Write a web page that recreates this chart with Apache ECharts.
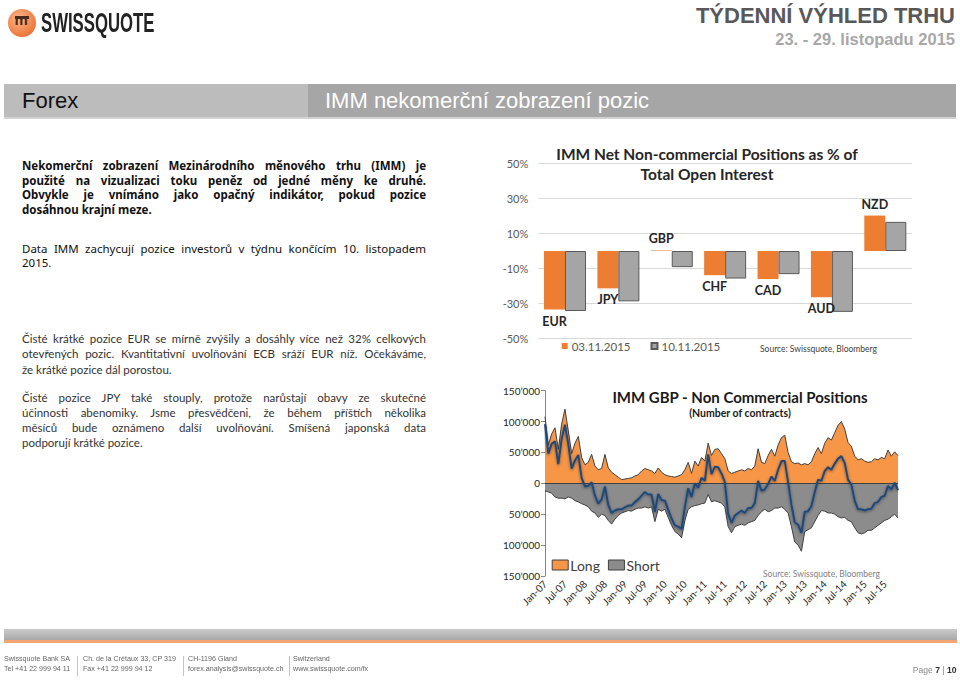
<!DOCTYPE html>
<html>
<head>
<meta charset="utf-8">
<script src="https://cdn.jsdelivr.net/npm/echarts@6/dist/echarts.min.js"></script>
<style>
  html,body{margin:0;padding:0;background:#fff;}
  body{width:960px;height:681px;position:relative;overflow:hidden;font-family:'Liberation Sans',Arial,sans-serif;}
  .abs{position:absolute;white-space:nowrap;}
  .p1{position:absolute;left:22px;width:404px;font-family:'Noto Sans',sans-serif;font-size:11.5px;line-height:14.4px;color:#111;white-space:nowrap;}
  .p3{position:absolute;left:22px;width:404px;font-family:'Lato',sans-serif;font-size:11.5px;color:#333;white-space:nowrap;}
  .foot{position:absolute;font-size:8px;color:#666;white-space:nowrap;transform:scaleX(0.89);transform-origin:left center;line-height:10px;}
  .sep{position:absolute;top:656px;width:1px;height:20px;background:#c4c4c4;}
</style>
</head>
<body>
<!-- header -->
<div class="abs" style="left:8px;top:9px;width:28px;height:28px;border-radius:50%;background:radial-gradient(circle at 40% 35%,#fbb58a,#ef7d42 65%,#d8622b);"></div>
<div class="abs" style="left:15px;top:16px;width:14px;height:2.5px;background:#4a2a1a;"></div>
<div class="abs" style="left:14.5px;top:12px;font:bold 15px 'Liberation Sans',Arial;color:#4a2a1a;line-height:15px;">m</div>
<div class="abs" style="left:41px;top:9.5px;font:bold 27px/27px 'Liberation Sans',Arial;color:#222;transform:scaleX(0.62);transform-origin:left top;">SWISSQUOTE</div>
<div class="abs" style="right:5px;top:5px;font:bold 22px/22px 'Liberation Sans',Arial;color:#58585a;">TÝDENNÍ VÝHLED TRHU</div>
<div class="abs" style="right:5px;top:31px;font:bold 16.5px/17px 'Liberation Sans',Arial;color:#a8a8a8;">23. - 29. listopadu 2015</div>

<!-- section bar -->
<div class="abs" style="left:4px;top:84px;width:304px;height:35px;background:#bcbcbc;"></div>
<div class="abs" style="left:308px;top:84px;width:648px;height:35px;background:#a6a6a6;"></div>
<div class="abs" style="left:4px;top:117px;width:952px;height:2px;background:#d2d2d2;"></div>
<div class="abs" style="left:22px;top:90.4px;font:22px/22px 'Liberation Sans',Arial;color:#111;">Forex</div>
<div class="abs" style="left:325px;top:90.4px;font:22px/22px 'Liberation Sans',Arial;color:#fff;">IMM nekomerční zobrazení pozic</div>

<!-- text paragraph 1 -->
<div class="p1 j" style="top:159.3px;font-weight:bold;">Nekomerční zobrazení Mezinárodního měnového trhu (IMM) je</div>
<div class="p1 j" style="top:173.7px;font-weight:bold;">použité na vizualizaci toku peněz od jedné měny ke druhé.</div>
<div class="p1 j" style="top:188.1px;font-weight:bold;">Obvykle je vnímáno jako opačný indikátor, pokud pozice</div>
<div class="p1" style="top:202.5px;font-weight:bold;">dosáhnou krajní meze.</div>

<div class="p1 j" style="top:241.8px;">Data IMM zachycují pozice investorů v týdnu končícím 10. listopadem</div>
<div class="p1" style="top:256.2px;">2015.</div>

<div class="p3 j" style="top:330.5px;line-height:15.5px;">Čisté krátké pozice EUR se mírně zvýšily a dosáhly více než 32% celkových</div>
<div class="p3 j" style="top:346px;line-height:15.5px;">otevřených pozic. Kvantitativní uvolňování ECB sráží EUR níž. Očekáváme,</div>
<div class="p3" style="top:361.5px;line-height:15.5px;">že krátké pozice dál porostou.</div>

<div class="p3 j" style="top:389.6px;line-height:15.1px;">Čisté pozice JPY také stouply, protože narůstají obavy ze skutečné</div>
<div class="p3 j" style="top:404.7px;line-height:15.1px;">účinnosti abenomiky. Jsme přesvědčeni, že během příštích několika</div>
<div class="p3 j" style="top:419.8px;line-height:15.1px;">měsíců bude oznámeno další uvolňování. Smíšená japonská data</div>
<div class="p3" style="top:434.9px;line-height:15.1px;">podporují krátké pozice.</div>

<!-- charts -->
<div id="chart" style="position:absolute;left:490px;top:140px;width:470px;height:490px;"></div>

<!-- footer -->
<div class="abs" style="left:4px;top:629px;width:953px;height:11px;background:linear-gradient(#cbcbcb,#a8a8a8);"></div>
<div class="abs" style="left:4px;top:640px;width:953px;height:2.5px;background:#f3a575;"></div>
<div class="foot" style="left:4px;top:654.3px;">Swissquote Bank SA</div>
<div class="foot" style="left:4px;top:664px;">Tel +41 22 999 94 11</div>
<div class="sep" style="left:77px;"></div>
<div class="foot" style="left:83px;top:654.3px;">Ch. de la Crétaux 33, CP 319</div>
<div class="foot" style="left:83px;top:664px;">Fax +41 22 999 94 12</div>
<div class="sep" style="left:183px;"></div>
<div class="foot" style="left:188px;top:654.3px;">CH-1196 Gland</div>
<div class="foot" style="left:188px;top:664px;">forex.analysis@swissquote.ch</div>
<div class="sep" style="left:289px;"></div>
<div class="foot" style="left:293px;top:654.3px;">Switzerland</div>
<div class="foot" style="left:293px;top:664px;">www.swissquote.com/fx</div>
<div class="abs" style="right:4px;top:664px;font-size:9.5px;line-height:11px;color:#888;transform:scaleX(0.9);transform-origin:right center;">Page <b style="color:#333">7</b> | <b style="color:#333">10</b></div>

<script>
// ---------- data: IMM net non-commercial positions (% of open interest) ----------
const fxCurrencies = ['EUR', 'JPY', 'GBP', 'CHF', 'CAD', 'AUD', 'NZD'];
const pos_03_11_2015 = [-33.4, -21.3, 0.3, -13.8, -16.0, -26.4, 20.2];
const pos_10_11_2015 = [-34.2, -28.7, -9.2, -15.7, -13.2, -34.7, 16.6];
const pctTickMin = -50, pctTickMax = 50, pctTickStep = 20;

// ---------- data: IMM GBP non-commercial positions, monthly, thousands of contracts ----------
const gbpStartYear = 2007;
const gbpLongK = [
  108, 62, 80, 90, 55, 96, 120, 85, 48, 65, 76, 42,
  30, 34, 47, 28, 22, 24, 47, 25, 18, 14, 10, 6,
  7, 8, 9, 12, 14, 20, 24, 22, 20, 16, 25, 18,
  14, 12, 11, 10, 12, 14, 22, 34, 16, 36, 28, 42,
  36, 65, 45, 55, 56, 48, 40, 20, 16, 18, 20, 22,
  20, 24, 22, 28, 56, 34, 32, 45, 55, 44, 62, 74,
  78, 50, 35, 32, 33, 30, 32, 30, 35, 48, 58, 48,
  65, 74, 70, 82, 94, 100, 88, 66, 60, 44, 38, 40,
  36, 34, 35, 40, 38, 42, 40, 54, 44, 51, 45
];
const gbpShortK = [
  -12, -14, -16, -22, -24, -24, -25, -22, -24, -28, -30, -33,
  -35, -38, -45, -48, -55, -50, -52, -60, -66, -58, -52, -48,
  -46, -44, -45, -42, -40, -40, -38, -40, -38, -62, -42, -45,
  -42, -55, -68, -78, -82, -88, -60, -42, -38, -36, -35, -33,
  -32, -18, -30, -28, -30, -32, -38, -70, -80, -70, -68, -66,
  -68, -64, -62, -60, -52, -46, -42, -46, -44, -40, -40, -38,
  -42, -48, -70, -95, -100, -110, -78, -75, -72, -62, -52, -44,
  -45, -48, -48, -50, -54, -56, -55, -60, -62, -72, -80, -82,
  -80, -76, -76, -72, -68, -64, -60, -58, -54, -50, -56
];
const gbpNetK = [
  96, 48, 64, 68, 31, 72, 95, 63, 24, 37, 46, 9,
  -5, -4, 2, -20, -33, -26, -5, -35, -48, -44, -42, -42,
  -39, -36, -36, -30, -26, -20, -14, -18, -18, -46, -17, -27,
  -28, -43, -57, -68, -70, -74, -38, -8, -22, 0, -7, 9,
  4, 47, 15, 27, 26, 16, 2, -50, -64, -52, -48, -44,
  -48, -40, -40, -32, 4, -12, -10, -1, 11, 4, 22, 36,
  36, 2, -35, -63, -67, -80, -46, -45, -37, -14, 6, 4,
  20, 26, 22, 32, 40, 44, 33, 6, -2, -28, -42, -42,
  -44, -42, -41, -32, -30, -22, -20, -4, -10, 1, -11
];
const monthNames = ['Jan','Feb','Mar','Apr','May','Jun','Jul','Aug','Sep','Oct','Nov','Dec'];
const contractsTickMin = -150000, contractsTickMax = 150000, contractsTickStep = 50000;

// ---------- justify text lines to the column width ----------
function justifyLines() {
  document.querySelectorAll('.j').forEach(el => {
    el.style.wordSpacing = '0px';
    const target = 404;
    const range = document.createRange();
    range.selectNodeContents(el);
    const w = range.getBoundingClientRect().width;
    const n = (el.textContent.match(/ /g) || []).length;
    if (n > 0) el.style.wordSpacing = ((target - w) / n) + 'px';
  });
}
justifyLines();
if (document.fonts && document.fonts.ready) document.fonts.ready.then(justifyLines);

// ---------- build ----------
const UNIT = 1000;
const gbpMonths = gbpLongK.map((_, i) =>
  monthNames[i % 12] + '-' + String(gbpStartYear + Math.floor(i / 12)).slice(2));
const fmtContracts = v => {
  const a = Math.abs(v);
  if (a === 0) return '0';
  const s = String(a);
  return s.slice(0, s.length - 3) + '\u2019' + s.slice(-3);
};

const chart = echarts.init(document.getElementById('chart'), null, {renderer: 'svg'});
const FONT = 'Lato';

const option = {
  animation: false,
  textStyle: {fontFamily: FONT},
  grid: [
    {left: 48.3, top: 23.3, width: 373.7, height: 175.4},
    {left: 55, top: 250.7, width: 353, height: 185.3}
  ],
  xAxis: [
    {gridIndex: 0, type: 'category', data: fxCurrencies,
     axisLine: {show: false}, axisTick: {show: false}, axisLabel: {show: false}},
    {gridIndex: 1, type: 'category', data: gbpMonths, boundaryGap: false,
     axisLine: {show: false}, axisTick: {show: false},
     axisLabel: {interval: (i) => i % 6 === 0, rotate: 45, fontSize: 10, color: '#262626', margin: 6, fontFamily: FONT}}
  ],
  yAxis: [
    {gridIndex: 0, type: 'value', min: pctTickMin, max: pctTickMax, interval: pctTickStep,
     axisLine: {show: false}, axisTick: {show: false},
     axisLabel: {formatter: '{value}%', color: '#595959', fontSize: 11, margin: 10, fontFamily: FONT},
     splitLine: {lineStyle: {color: '#d9d9d9', width: 1}}},
    {gridIndex: 1, type: 'value', min: contractsTickMin, max: contractsTickMax, interval: contractsTickStep,
     axisLine: {show: true, lineStyle: {color: '#868686'}},
     axisTick: {show: true, length: 4, lineStyle: {color: '#868686'}},
     axisLabel: {formatter: fmtContracts, color: '#262626', fontSize: 10, margin: 5, fontFamily: FONT},
     splitLine: {show: false}}
  ],
  legend: [
    {left: 71.7, top: 200, padding: 0, itemWidth: 6, itemHeight: 6, itemGap: 20, icon: 'rect',
     data: ['03.11.2015', '10.11.2015'],
     textStyle: {fontSize: 11.5, color: '#595959', fontFamily: FONT, padding: [0, 0, 0, -1]}},
    {left: 61.7, top: 418, padding: 0, itemWidth: 16, itemHeight: 10, itemGap: 8,
     data: [
       {name: 'Long', icon: 'rect', itemStyle: {color: '#F79646', borderColor: '#404040', borderWidth: 1}},
       {name: 'Short', icon: 'rect', itemStyle: {color: '#8c8c8c', borderColor: '#404040', borderWidth: 1}}
     ],
     textStyle: {fontSize: 14, color: '#404040', fontFamily: FONT, padding: [0, 0, 0, -3]}}
  ],
  graphic: [
    {type: 'text', silent: true, style: {text: 'IMM Net Non-commercial Positions as % of', x: 217, y: 14.3,
      textAlign: 'center', textVerticalAlign: 'middle', align: 'center', verticalAlign: 'middle',
      font: 'bold 15.5px Lato', fill: '#262626'}},
    {type: 'text', silent: true, style: {text: 'Total Open Interest', x: 217, y: 34.3,
      textAlign: 'center', textVerticalAlign: 'middle', align: 'center', verticalAlign: 'middle',
      font: 'bold 15.5px Lato', fill: '#262626'}},
    {type: 'text', silent: true, style: {text: 'Source: Swissquote, Bloomberg', x: 270, y: 209.3,
      textAlign: 'left', textVerticalAlign: 'middle', align: 'left', verticalAlign: 'middle',
      font: '8.5px Lato', fill: '#404040'}},
    {type: 'text', silent: true, style: {text: 'IMM GBP - Non Commercial Positions', x: 250, y: 256.7,
      textAlign: 'center', textVerticalAlign: 'middle', align: 'center', verticalAlign: 'middle',
      font: 'bold 15px Lato', fill: '#1a1a1a'}},
    {type: 'text', silent: true, style: {text: '(Number of contracts)', x: 250, y: 273.3,
      textAlign: 'center', textVerticalAlign: 'middle', align: 'center', verticalAlign: 'middle',
      font: 'bold 10.5px Lato', fill: '#1a1a1a'}},
    {type: 'text', silent: true, style: {text: 'Source: Swissquote, Bloomberg', x: 273, y: 434.3,
      textAlign: 'left', textVerticalAlign: 'middle', align: 'left', verticalAlign: 'middle',
      font: '8.5px Lato', fill: '#7f7f7f'}}
  ],
  series: [
    {name: '03.11.2015', type: 'bar', xAxisIndex: 0, yAxisIndex: 0, barWidth: 21, barGap: '0%',
     itemStyle: {color: '#ED7D31'},
     data: pos_03_11_2015.map(v => ({value: v, label: {position: v < 0 ? 'bottom' : 'top'}})),
     label: {show: true, formatter: '{b}', distance: 5, fontSize: 12.5, fontWeight: 'bold',
             color: '#262626', fontFamily: FONT}},
    {name: '10.11.2015', type: 'bar', xAxisIndex: 0, yAxisIndex: 0, barWidth: 21, barGap: '0%',
     itemStyle: {color: '#A5A5A5', borderColor: '#595959', borderWidth: 1},
     data: pos_10_11_2015},
    {name: 'Long', type: 'line', xAxisIndex: 1, yAxisIndex: 1, symbol: 'none',
     data: gbpLongK.map(v => v * UNIT),
     itemStyle: {color: '#F79646'},
     lineStyle: {color: '#404040', width: 1},
     areaStyle: {color: '#F79646', opacity: 1},
     markLine: {silent: true, symbol: 'none', label: {show: false},
                lineStyle: {color: '#404040', width: 1, type: 'solid'}, data: [{yAxis: 0}]}},
    {name: 'Short', type: 'line', xAxisIndex: 1, yAxisIndex: 1, symbol: 'none',
     data: gbpShortK.map(v => v * UNIT),
     itemStyle: {color: '#8c8c8c'},
     lineStyle: {color: '#404040', width: 1},
     areaStyle: {color: '#8c8c8c', opacity: 1}},
    {name: 'Net', type: 'line', xAxisIndex: 1, yAxisIndex: 1, symbol: 'none', z: 5,
     data: gbpNetK.map(v => v * UNIT),
     itemStyle: {color: '#1F497D'},
     lineStyle: {color: '#1F497D', width: 2, shadowBlur: 3, shadowColor: 'rgba(0,0,0,0.45)', shadowOffsetY: 1}}
  ]
};
chart.setOption(option);
</script>
</body>
</html>
